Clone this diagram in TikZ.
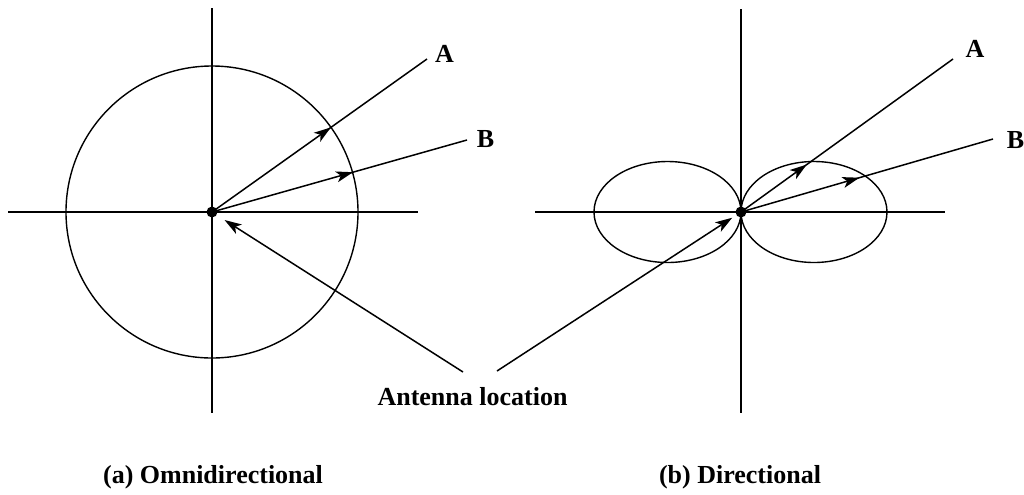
\documentclass[tikz,border=0pt]{standalone}
\usepackage{fontspec}
\setmainfont{Liberation Serif}
\usetikzlibrary{arrows.meta, decorations.markings}

\tikzset{
  axis/.style={line width=0.8pt},
  lobe/.style={line width=0.7pt},
  dot/.style={circle, fill=black, inner sep=0pt, minimum size=5.5pt},
  ray/.style={line width=0.75pt, postaction={decorate},
    decoration={markings, mark=at position #1 with {\arrow{Stealth[length=8.5pt, width=5.5pt, inset=2.2pt]}}}},
  pointer/.style={line width=0.75pt, -{Stealth[length=8.5pt, width=5.5pt, inset=2.2pt]}},
  lbl/.style={font=\bfseries\fontsize{13}{15}\selectfont, inner sep=0pt}
}

\begin{document}
\begin{tikzpicture}[x=0.5pt, y=-0.5pt]
  \useasboundingbox (0,0) rectangle (1024,494);

  % (a) Omnidirectional
  \coordinate (aTop) at (212,8);
  \coordinate (aBot) at (212,413);
  \coordinate (aLeft) at (8,212);
  \coordinate (aRight) at (418,212);
  \draw[axis] (aTop) -- (aBot);
  \draw[axis] (aLeft) -- (aRight);
  \node[dot] (antA) at (212,212) {};
  \draw[lobe] (antA.center) circle[radius=73pt];

  \coordinate (aEndA) at (427,59);
  \coordinate (aEndB) at (467,140);
  \node[lbl] (aLabA) at (444.5,53.5) {A};
  \node[lbl] (aLabB) at (485.5,139.5) {B};
  \draw[ray=0.553] (antA.center) -- (aEndA);
  \draw[ray=0.553] (antA.center) -- (aEndB);

  % (b) Directional
  \coordinate (bTop) at (741,9);
  \coordinate (bBot) at (741,413);
  \coordinate (bLeft) at (535,212);
  \coordinate (bRight) at (945,212);
  \draw[axis] (bTop) -- (bBot);
  \draw[axis] (bLeft) -- (bRight);
  \coordinate (lobeL) at (667.5,212);
  \coordinate (lobeR) at (814,212);
  \draw[lobe] (lobeL) ellipse[x radius=36.75pt, y radius=25.25pt];
  \draw[lobe] (lobeR) ellipse[x radius=36.5pt, y radius=25.25pt];
  \node[dot] (antB) at (741,212) {};

  \coordinate (bEndA) at (953,59);
  \coordinate (bEndB) at (993,139);
  \node[lbl] (bLabA) at (975,48.5) {A};
  \node[lbl] (bLabB) at (1015.5,140) {B};
  \draw[ray=0.31] (antB.center) -- (bEndA);
  \draw[ray=0.47] (antB.center) -- (bEndB);

  % Antenna location
  \node[lbl, anchor=base] (ant) at (472.5,405) {Antenna location};
  \coordinate (antL) at (463,372);
  \coordinate (antR) at (497,371);
  \draw[pointer, shorten >=4.5pt] (antL) -- (antA);
  \draw[pointer, shorten >=2.3pt] (antR) -- (antB);

  % captions
  \node[lbl, anchor=base] (capA) at (213,483) {(a) Omnidirectional};
  \node[lbl, anchor=base] (capB) at (740,483) {(b) Directional};
\end{tikzpicture}
\end{document}
